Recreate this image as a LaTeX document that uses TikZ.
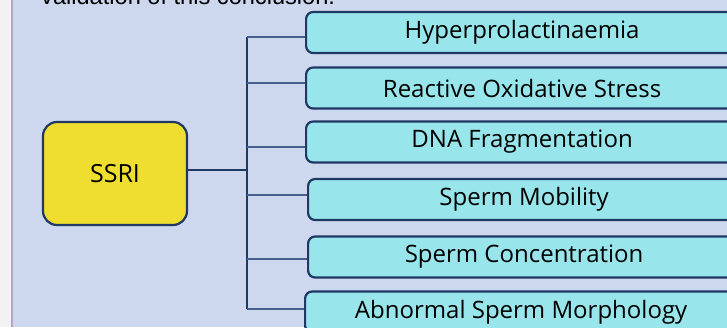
\documentclass[tikz,border=0pt]{standalone}
\usepackage{fontspec}
\setmainfont{Open Sans}
\newfontfamily\capfont{Liberation Sans}
\definecolor{pagegray}{RGB}{242,242,242}
\definecolor{edgepurple}{RGB}{180,165,200}
\definecolor{bgblue}{RGB}{205,216,239}
\definecolor{navy}{RGB}{31,56,100}
\definecolor{linkblue}{RGB}{70,95,140}
\definecolor{cyanbox}{RGB}{152,230,236}
\definecolor{yellowbox}{RGB}{239,221,48}
\tikzset{
  x=1pt,y=1pt,
  effbox/.style={draw=navy,line width=2.2pt,fill=cyanbox,rounded corners=7pt,
    anchor=west,minimum width=432pt,minimum height=41pt,inner sep=0pt,
    font=\fontsize{24}{28}\selectfont,text=black},
  srcbox/.style={draw=navy,line width=2.2pt,fill=yellowbox,rounded corners=14pt,
    minimum width=144pt,minimum height=103pt,inner sep=0pt,
    font=\fontsize{25}{28}\selectfont,text=black},
  trunkline/.style={draw=navy,line width=1.6pt},
  branchline/.style={draw=linkblue,line width=1.6pt},
}
\begin{document}
\begin{tikzpicture}
\useasboundingbox (0,0) rectangle (727,-327);
\begin{scope}
\clip (0,0) rectangle (727,-327);
\fill[pagegray] (0,0) rectangle (12,-327);
\fill[bgblue] (12,0) rectangle (727,-327);
\draw[edgepurple,line width=1.4pt] (12,0) -- (12,-327);
\node[anchor=base west,font=\capfont\fontsize{23.6}{26}\selectfont,inner sep=0pt] (caption) at (41,-4.5) {validation of this conclusion.};
\node[srcbox] (ssri) at (115,-173.5) {SSRI};
\node[effbox] (b1) at (305,-32.5) {Hyperprolactinaemia};
\node[effbox] (b2) at (305,-88) {Reactive Oxidative Stress};
\node[effbox] (b3) at (305,-142) {DNA Fragmentation};
\node[effbox] (b4) at (307,-199.5) {Sperm Mobility};
\node[effbox] (b5) at (307,-257) {Sperm Concentration};
\node[effbox] (b6) at (304,-312) {Abnormal Sperm Morphology};
\coordinate (j0) at (247,-170);
\coordinate (j1) at (247,-37);
\coordinate (j2) at (247,-83);
\coordinate (j3) at (247,-147);
\coordinate (j4) at (247,-195);
\coordinate (j5) at (247,-259);
\coordinate (j6) at (247,-309);
\draw[trunkline] (ssri.east |- j0) -- (j0);
\draw[trunkline] (j1) -- (j6);
\draw[branchline] (j1) -- (j1 -| b1.west);
\draw[branchline] (j2) -- (j2 -| b2.west);
\draw[branchline] (j3) -- (j3 -| b3.west);
\draw[branchline] (j4) -- (j4 -| b4.west);
\draw[branchline] (j5) -- (j5 -| b5.west);
\draw[branchline] (j6) -- (j6 -| b6.west);
\end{scope}
\end{tikzpicture}
\end{document}
